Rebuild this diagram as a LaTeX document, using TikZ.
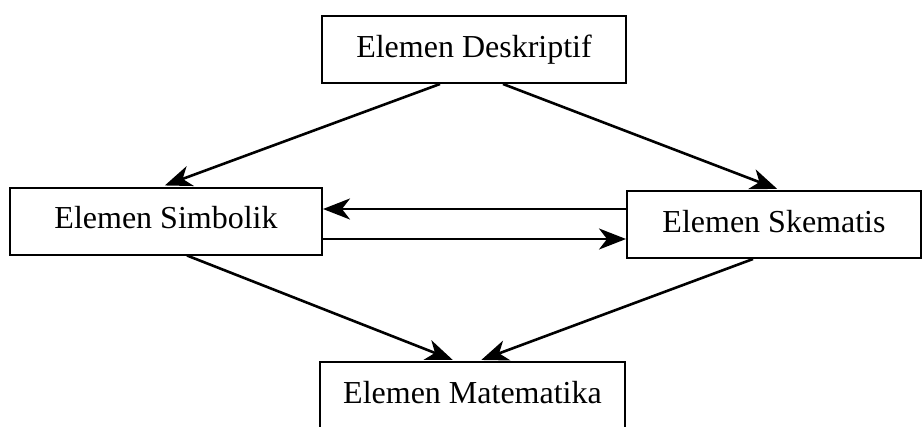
\documentclass[tikz,border=0pt]{standalone}
\usepackage{fontspec}
\setmainfont{Liberation Serif}
\usetikzlibrary{positioning, arrows.meta, calc}

\begin{document}
\begin{tikzpicture}[
    x=1pt, y=-1pt,
    font=\fontsize{32}{38}\selectfont,
    % Styles
    elemen/.style={ % Element box
        rectangle,
        draw,
        line width=2pt,
        inner sep=0pt,
        minimum height=67pt,
        text height=22pt,
        text depth=7pt
    },
    arrow/.style={
        -{Stealth[length=27pt, width=21pt, inset=8pt]},
        line width=2.6pt,
        shorten >=3pt
    }
]

    % Page frame
    \useasboundingbox (0,0) rectangle (923,426);
    \clip (0,0) rectangle (923,426);

    % Elements
    \node[elemen, minimum width=304pt] (desk) at (474,49.5) {Elemen Deskriptif};
    \node[elemen, minimum width=312pt] (simb) at (166,221) {Elemen Simbolik};
    \node[elemen, minimum width=294pt] (skem) at (774,224.5) {Elemen Skematis};
    \node[elemen, minimum width=305pt] (mat) at (472.5,395.5) {Elemen Matematika};

    % Arrows from the descriptive element
    \draw[arrow] ([xshift=-34pt]desk.south) -- ([xshift=-4pt]simb.north);
    \draw[arrow] ([xshift=29pt]desk.south) -- ([xshift=6pt]skem.north);

    % Arrows between symbolic and schematic
    \coordinate (back) at ([yshift=12pt]simb.east);
    \coordinate (fwd) at ([yshift=-18pt]simb.east);
    \draw[arrow, shorten >=0pt] (back -| skem.west) -- (back);
    \draw[arrow, shorten >=0pt] (fwd) -- (fwd -| skem.west);

    % Arrows to the mathematical element
    \draw[arrow] ([xshift=21pt]simb.south) -- ([xshift=-17pt]mat.north);
    \draw[arrow] ([xshift=-21pt]skem.south) -- ([xshift=6pt]mat.north);
\end{tikzpicture}
\end{document}
